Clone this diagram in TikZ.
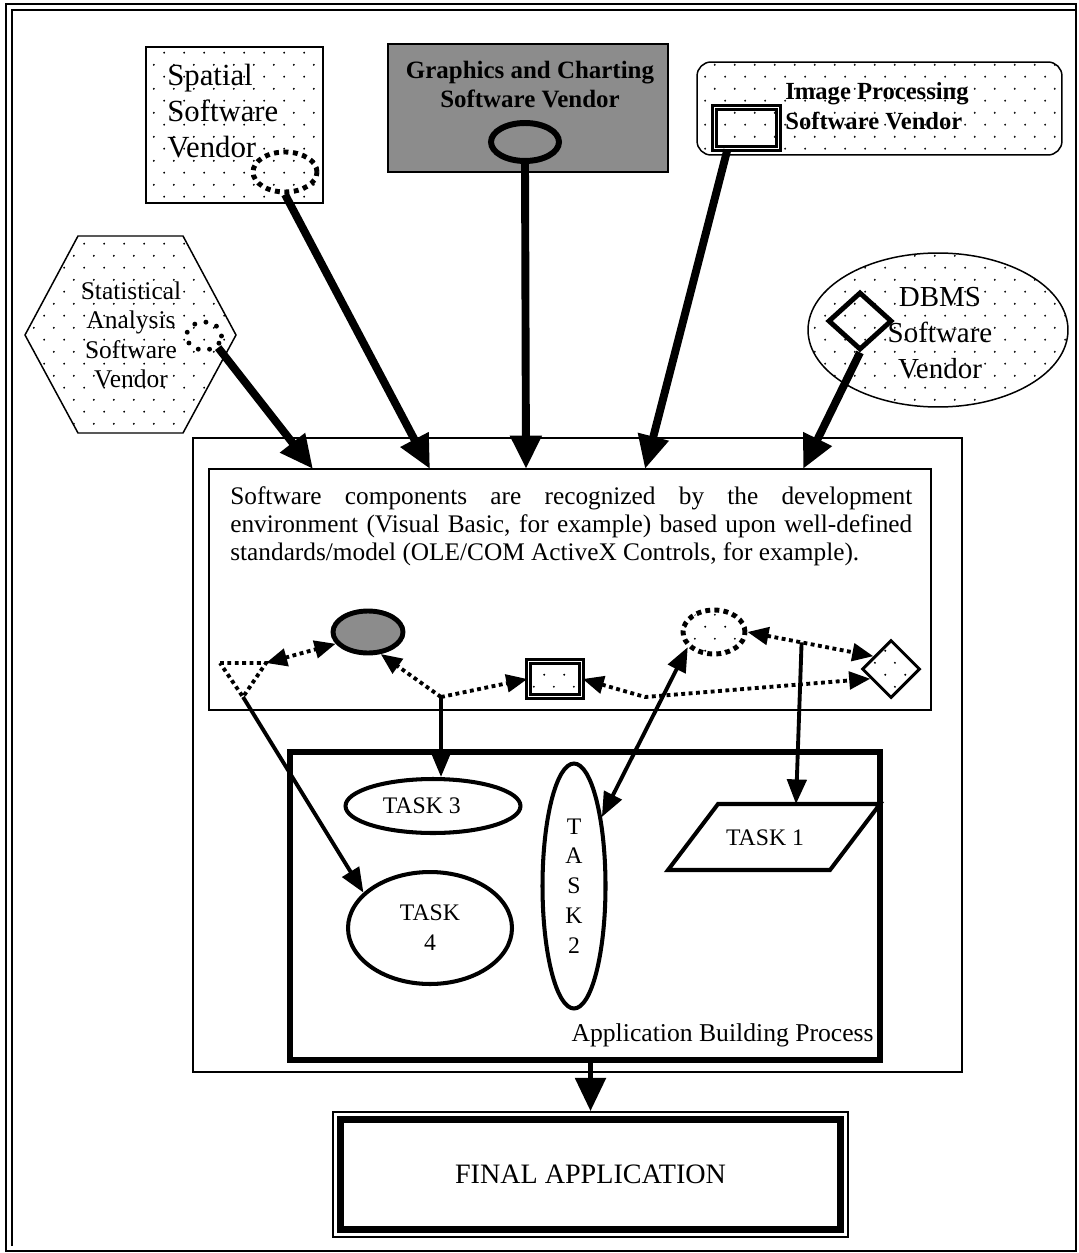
\documentclass[tikz,border=0pt]{standalone}
\usepackage{fontspec}
\setmainfont{Liberation Serif}
\usetikzlibrary{arrows.meta,shapes.geometric,patterns,calc}

% sparse staggered dot fill used inside the vendor shapes
\pgfdeclarepatternformonly{vendordots}{\pgfpointorigin}{\pgfqpoint{11.4pt}{13.6pt}}{\pgfqpoint{11.4pt}{13.6pt}}{%
  \pgfpathcircle{\pgfqpoint{2.5pt}{3pt}}{0.6pt}%
  \pgfpathcircle{\pgfqpoint{8.2pt}{9.8pt}}{0.6pt}%
  \pgfusepath{fill}%
}

\tikzset{
  thinbox/.style={draw,line width=0.85pt},
  vendorfill/.style={pattern=vendordots,pattern color=black},
  shadefill/.style={fill=black!45},
  oval/.style={ellipse,inner sep=0pt},
  bigarrow/.style={line width=4.5pt,-{Triangle[length=19pt,width=17pt]}},
  solidarrow/.style={line width=2.2pt,-{Triangle[length=14pt,width=11pt]}},
  soliddouble/.style={line width=2.2pt,{Triangle[length=14pt,width=11pt]}-{Triangle[length=14pt,width=11pt]}},
  dotline/.style={line width=2.2pt,dash pattern=on 2.2pt off 2pt},
  dotdouble/.style={dotline,{Triangle[length=12pt,width=10pt]}-{Triangle[length=12pt,width=10pt]}},
  dotarrow/.style={dotline,-{Triangle[length=12pt,width=10pt]}},
  vendortext/.style={inner sep=0pt,font=#1},
  tasktext/.style={font=\fontsize{13.5}{17}\selectfont},
}

\begin{document}
\begin{tikzpicture}[x=0.02cm,y=-0.02cm]
\useasboundingbox (0,0) rectangle (1078,1253);

% page frame
\draw[line width=0.9pt] (6,4) rectangle (1076,1251);
\draw[line width=1.2pt] (12,1246) -- (12,10) -- (1076,10);

% ---------------- vendors ----------------
% spatial
\node[thinbox,vendorfill,minimum width=3.54cm,minimum height=3.12cm] (spatial) at (234.5,125) {};
\node[vendortext=\fontsize{17.5}{20.4}\selectfont,anchor=north west,align=left] (spatialtxt) at (167,64) {Spatial\\Software\\Vendor};
\node[oval,draw,line width=2.8pt,dash pattern=on 2.8pt off 2.6pt,minimum width=1.28cm,minimum height=0.8cm] (spatialmark) at (285,172) {};

% graphics and charting
\node[thinbox,shadefill,minimum width=5.6cm,minimum height=2.56cm] (graphics) at (528,108) {};
\node[vendortext=\bfseries\fontsize{14.2}{16.4}\selectfont,anchor=north,align=center] (graphicstxt) at (530,61) {Graphics and Charting\\Software Vendor};
\node[oval,draw,line width=3.4pt,minimum width=1.36cm,minimum height=0.76cm] (graphicsmark) at (525,142) {};

% image processing
\node[thinbox,vendorfill,rounded corners=8pt,minimum width=7.3cm,minimum height=1.86cm] (imgproc) at (879.5,108.5) {};
\node[vendortext=\bfseries\fontsize{14}{17}\selectfont,anchor=north west,align=left] (imgproctxt) at (785,82) {Image Processing\\Software Vendor};
\node[draw,line width=1.3pt,double,double distance=1.1pt,minimum width=1.28cm,minimum height=0.82cm,inner sep=0pt] (imgmark) at (746.5,128) {};

% statistical analysis
\draw[line width=0.85pt,vendorfill] (25,335) -- (78,236) -- (183,236) -- (236,335) -- (183,433) -- (78,433) -- cycle;
\node[vendortext=\fontsize{14.5}{16.8}\selectfont,anchor=north,align=center] (stats) at (131,281) {Statistical\\Analysis\\Software\\Vendor};
\node[oval,draw,line width=2.8pt,line cap=round,dash pattern=on 0pt off 6.5pt,minimum width=0.7cm,minimum height=0.56cm] (statmark) at (204,336) {};

% DBMS
\node[oval,thinbox,vendorfill,minimum width=5.2cm,minimum height=3.08cm] (dbms) at (938,330) {};
\node[vendortext=\fontsize{16.5}{20.5}\selectfont,anchor=north,align=center] (dbmstxt) at (940,287) {DBMS\\Software\\Vendor};
\node[diamond,draw,line width=2.8pt,inner sep=0pt,minimum width=1.28cm,minimum height=1.16cm] (dbmsmark) at (860,321) {};

% ---------------- development environment ----------------
\node[thinbox,minimum width=15.38cm,minimum height=12.68cm] (bigbox) at (577.5,755) {};
\node[thinbox,minimum width=14.44cm,minimum height=4.82cm] (compbox) at (570,589.5) {};
\node[inner sep=0pt,anchor=north west,align=left,font=\fontsize{14.4}{15.9}\selectfont] (comptxt) at (230,486)
  {\makebox[13.64cm][s]{Software components are recognized by the development}\\
   \makebox[13.64cm][s]{environment (Visual Basic, for example) based upon well-defined}\\
   standards/model (OLE/COM ActiveX Controls, for example).};

% component symbols
\draw[dotline] (220,663) -- (266,663) -- (243,697) -- cycle;
\coordinate (trir) at (266,663);
\coordinate (trib) at (243,697);
\node[oval,draw,line width=2.8pt,shadefill,minimum width=1.4cm,minimum height=0.84cm] (grayell) at (368,632) {};
\node[draw,line width=1.3pt,double,double distance=1.1pt,vendorfill,minimum width=1.06cm,minimum height=0.7cm,inner sep=0pt] (smallrect) at (555,679) {};
\node[oval,draw,vendorfill,line width=2.8pt,dash pattern=on 2.8pt off 2.4pt,minimum width=1.24cm,minimum height=0.88cm] (dotell) at (714,632) {};
\node[diamond,draw,vendorfill,line width=1.7pt,inner sep=0pt,minimum width=1.16cm,minimum height=1.16cm] (diam) at (891,669) {};

\coordinate (J) at (441,697);
\coordinate (K) at (645,697);
\coordinate (diamlow) at ($(diam.west)!0.32!(diam.south)$);
\coordinate (diamup) at ($(diam.west)!0.42!(diam.north)$);
\coordinate (M) at ($(dotell.east)!0.43!(diamup)$);

% ---------------- application building process ----------------
\node[draw,line width=3.4pt,minimum width=11.8cm,minimum height=6.16cm] (appbox) at (585,906) {};
\node[inner sep=0pt,anchor=base east,font=\fontsize{14.6}{17}\selectfont] (apptxt) at (874,1041) {Application Building Process};

\node[oval,draw,line width=2.3pt,minimum width=3.5cm,minimum height=1.08cm,tasktext] (task3) at (433,806) {\hspace*{-0.45cm}TASK 3};
\node[oval,draw,line width=2.3pt,minimum width=3.28cm,minimum height=2.24cm,tasktext,align=center] (task4) at (430,928) {TASK\\4};
\node[oval,draw,line width=2.3pt,minimum width=1.26cm,minimum height=4.9cm,tasktext,align=center] (task2) at (574,886) {T\\A\\S\\K\\2};
\draw[line width=2.3pt] (668,870) -- (718,804) -- (880,804) -- (830,870) -- cycle;
\node[tasktext] (task1) at (765,838) {TASK 1};
\coordinate (task1top) at (796,804);

% final application
\node[draw,line width=0.9pt,minimum width=10.3cm,minimum height=2.5cm,font=\fontsize{16}{19}\selectfont] (final) at (590.5,1174.5) {FINAL APPLICATION};
\draw[line width=4pt] ($(final.north west)+(8.5,8.5)$) rectangle ($(final.south east)+(-8.5,-8.5)$);

% ---------------- connectors ----------------
\coordinate (in1) at (313,469);
\coordinate (in2) at (430,469);
\coordinate (in3) at (526,469);
\coordinate (in4) at (645,469);
\coordinate (in5) at (803,469);
\draw[bigarrow] (statmark.south east) -- (in1);
\draw[bigarrow] (spatialmark.south) -- (in2);
\draw[bigarrow] (graphicsmark.south) -- (in3);
\draw[bigarrow] ($(imgmark.south west)+(14,0)$) -- (in4);
\draw[bigarrow] (dbmsmark.south) -- (in5);

\draw[dotdouble] (trir) -- (grayell.200);
\draw[dotarrow] (J) -- (grayell.300);
\draw[dotarrow] (J) -- (smallrect.west);
\draw[dotdouble] (smallrect.east) -- (K) -- (diamlow);
\draw[dotdouble] (dotell.east) -- (diamup);

\draw[solidarrow] (trib) -- (task4.152);
\draw[solidarrow] (J) -- (task3.north -| J);
\draw[soliddouble] (task2.68) -- (dotell.210);
\draw[solidarrow] (M) -- (task1top);
\draw[bigarrow,line width=3.4pt] (final.north |- appbox.south) -- (final.north);
\end{tikzpicture}
\end{document}
